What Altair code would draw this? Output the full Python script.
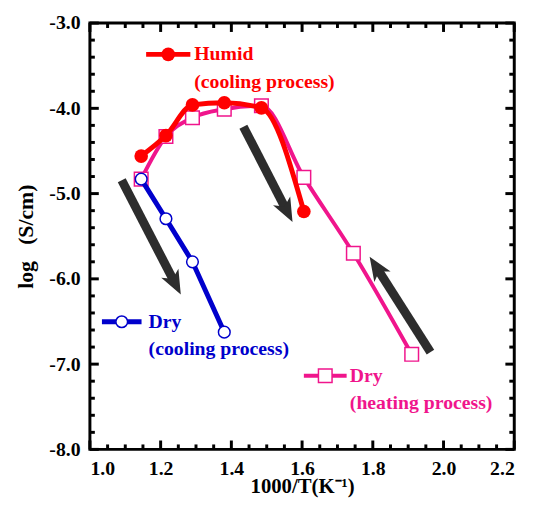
import math
import altair as alt
import pandas as pd

# ---------------- data ----------------
humid_x = [1.145, 1.215, 1.29, 1.38, 1.485, 1.605]
humid_y = [-4.56, -4.32, -3.96, -3.935, -3.995, -5.21]

dry_heat_x = [1.145, 1.215, 1.29, 1.38, 1.485, 1.605, 1.745, 1.91]
dry_heat_y = [-4.83, -4.33, -4.11, -4.01, -3.97, -4.81, -5.70, -6.885]

dry_cool_x = [1.145, 1.215, 1.29, 1.38]
dry_cool_y = [-4.83, -5.295, -5.80, -6.625]

x_major = [1.0, 1.2, 1.4, 1.6, 1.8, 2.0, 2.2]
x_minor = [1.05, 1.1, 1.15, 1.25, 1.3, 1.35, 1.45, 1.5, 1.55, 1.65, 1.7, 1.75,
           1.85, 1.9, 1.95, 2.05, 2.1, 2.15]
y_major = [-8.0, -7.0, -6.0, -5.0, -4.0, -3.0]
y_minor = [-7.8, -7.6, -7.4, -7.2, -6.8, -6.6, -6.4, -6.2, -5.8, -5.6, -5.4, -5.2,
           -4.8, -4.6, -4.4, -4.2, -3.8, -3.6, -3.4, -3.2]

# arrows (data coordinates)
arrow_tail_x = [1.09, 1.434, 1.963]
arrow_tail_y = [-4.844, -4.215, -6.858]
arrow_tip_x = [1.257, 1.573, 1.791]
arrow_tip_y = [-6.183, -5.334, -5.74]

# legend annotations (data coordinates)
leg_names = ["Humid", "Dry", "Dry"]
leg_sub = ["(cooling process)", "(cooling process)", "(heating process)"]
leg_x1 = [1.159, 1.034, 1.605]
leg_x2 = [1.284, 1.146, 1.726]
leg_y = [-3.367, -6.503, -7.136]
leg_y2 = [-3.694, -6.819, -7.456]
leg_text_x = [1.295, 1.166, 1.735]

RED = "#ff0000"
BLUE = "#0000cc"
PINK = "#f0158c"
DARK = "#2d2d2d"
FONT = "Liberation Serif"

W, H = 430, 432
XD = [1.0, 2.2]
YD = [-8.0, -3.0]
px_x = W / (XD[1] - XD[0])
px_y = H / (YD[1] - YD[0])

xs = alt.Scale(domain=XD, nice=False, zero=False)
ys = alt.Scale(domain=YD, nice=False, zero=False)

# ---------------- series ----------------
humid = pd.DataFrame({"x": humid_x, "y": humid_y})
dheat = pd.DataFrame({"x": dry_heat_x, "y": dry_heat_y})
dcool = pd.DataFrame({"x": dry_cool_x, "y": dry_cool_y})

X = alt.X("x:Q", scale=xs)
Y = alt.Y("y:Q", scale=ys)

pink_line = alt.Chart(dheat).mark_line(color=PINK, strokeWidth=4, interpolate="monotone").encode(x=X, y=Y)
pink_pts = alt.Chart(dheat).mark_point(shape="square", size=190, filled=True, fill="white",
                                       stroke=PINK, strokeWidth=1.5, opacity=1).encode(x=X, y=Y)
red_line = alt.Chart(humid).mark_line(color=RED, strokeWidth=5, interpolate="monotone").encode(x=X, y=Y)
red_pts = alt.Chart(humid).mark_point(shape="circle", size=190, filled=True, color=RED, opacity=1).encode(x=X, y=Y)
blue_line = alt.Chart(dcool).mark_line(color=BLUE, strokeWidth=5).encode(x=X, y=Y)
blue_pts = alt.Chart(dcool).mark_point(shape="circle", size=140, filled=True, fill="white",
                                       stroke=BLUE, strokeWidth=1.5, opacity=1).encode(x=X, y=Y)

# ---------------- arrows ----------------
rows = []
for tx, ty, hx, hy in zip(arrow_tail_x, arrow_tail_y, arrow_tip_x, arrow_tip_y):
    dxp = (hx - tx) * px_x
    dyp = -(hy - ty) * px_y
    L = math.hypot(dxp, dyp)
    ang = math.degrees(math.atan2(dxp, -dyp)) % 360
    back = 15
    ex = hx - back * dxp / L / px_x
    ey = hy + back * dyp / L / px_y
    rows.append({"tx": tx, "ty": ty, "ex": ex, "ey": ey, "hx": hx, "hy": hy, "ang": ang})
arrows = pd.DataFrame(rows)

shaft = alt.Chart(arrows).mark_rule(color=DARK, strokeWidth=9, strokeCap="butt").encode(
    x=alt.X("tx:Q", scale=xs), y=alt.Y("ty:Q", scale=ys), x2="ex:Q", y2="ey:Q")
head = alt.Chart(arrows).mark_point(
    shape="M0,0 L0.85,2.1 L0,1.55 L-0.85,2.1 Z", size=530, filled=True, color=DARK, opacity=1).encode(
    x=alt.X("hx:Q", scale=xs), y=alt.Y("hy:Q", scale=ys),
    angle=alt.Angle("ang:Q", scale=None))

# ---------------- legend annotations ----------------
leg = pd.DataFrame({"name": leg_names, "sub": leg_sub, "x1": leg_x1, "x2": leg_x2,
                    "y": leg_y, "y2": leg_y2, "tx": leg_text_x,
                    "xm": [(a + b) / 2 for a, b in zip(leg_x1, leg_x2)]})
colors = [RED, BLUE, PINK]
widths = [5, 5, 4]
leg_layers = []
for i in range(3):
    d = leg.iloc[[i]]
    c = colors[i]
    leg_layers.append(alt.Chart(d).mark_rule(color=c, strokeWidth=widths[i]).encode(
        x=alt.X("x1:Q", scale=xs), x2="x2:Q", y=alt.Y("y:Q", scale=ys)))
    if i == 0:
        mk = alt.Chart(d).mark_point(shape="circle", size=190, filled=True, color=RED, opacity=1)
    elif i == 1:
        mk = alt.Chart(d).mark_point(shape="circle", size=140, filled=True, fill="white",
                                     stroke=BLUE, strokeWidth=1.5, opacity=1)
    else:
        mk = alt.Chart(d).mark_point(shape="square", size=190, filled=True, fill="white",
                                     stroke=PINK, strokeWidth=1.5, opacity=1)
    leg_layers.append(mk.encode(x=alt.X("xm:Q", scale=xs), y=alt.Y("y:Q", scale=ys)))
    leg_layers.append(alt.Chart(d).mark_text(color=c, font=FONT, fontSize=20, fontWeight="bold",
                                             align="left", baseline="middle").encode(
        x=alt.X("tx:Q", scale=xs), y=alt.Y("y:Q", scale=ys), text="name:N"))
    leg_layers.append(alt.Chart(d).mark_text(color=c, font=FONT, fontSize=20, fontWeight="bold",
                                             align="left", baseline="middle").encode(
        x=alt.X("tx:Q", scale=xs), y=alt.Y("y2:Q", scale=ys), text="sub:N"))

# ---------------- axes & inward ticks ----------------
LBL = "replace(format(datum.value, '.1f'), '\u2212', '-')"
axes = alt.Chart(pd.DataFrame({"x": [XD[0]], "y": [YD[0]]})).mark_point(opacity=0).encode(
    x=alt.X("x:Q", scale=xs, axis=alt.Axis(values=x_major, labelExpr=LBL, ticks=False, domain=False,
                                           grid=False, labelPadding=9, title="1000/T(K\u207b\u00b9)",
                                           titleBaseline="middle", titleY=38, titleFontSize=21)),
    y=alt.Y("y:Q", scale=ys, axis=alt.Axis(values=y_major, labelExpr=LBL, ticks=False, domain=False,
                                           grid=False, labelPadding=10,
                                           title="log\u00a0\u00a0\u00a0(S/cm)", titlePadding=12,
                                           titleFontSize=22)))

xmaj = pd.DataFrame({"v": x_major})
xmin = pd.DataFrame({"v": x_minor})
ymaj = pd.DataFrame({"v": y_major})
ymin = pd.DataFrame({"v": y_minor})

def xticks(df, L):
    b = alt.Chart(df).mark_rule(color="black", strokeWidth=3).encode(
        x=alt.X("v:Q", scale=xs), y=alt.value(H), y2=alt.value(H - L))
    t = alt.Chart(df).mark_rule(color="black", strokeWidth=3).encode(
        x=alt.X("v:Q", scale=xs), y=alt.value(0), y2=alt.value(L))
    return [b, t]

def yticks(df, L):
    l = alt.Chart(df).mark_rule(color="black", strokeWidth=3).encode(
        y=alt.Y("v:Q", scale=ys), x=alt.value(0), x2=alt.value(L))
    r = alt.Chart(df).mark_rule(color="black", strokeWidth=3).encode(
        y=alt.Y("v:Q", scale=ys), x=alt.value(W), x2=alt.value(W - L))
    return [l, r]

tick_layers = xticks(xmaj, 9) + xticks(xmin, 5) + yticks(ymaj, 9) + yticks(ymin, 5)

chart = alt.layer(
    axes, *tick_layers, shaft, head,
    pink_line, pink_pts, red_line, red_pts, blue_line, blue_pts,
    *leg_layers
).properties(
    width=W, height=H,
    autosize=alt.AutoSizeParams(type="none"),
    padding={"left": 83, "top": 12, "right": 20, "bottom": 47},
    background="white",
).configure_view(
    stroke="black", strokeWidth=3
).configure_axis(
    labelFont=FONT, labelFontSize=20, labelFontWeight="bold", labelColor="black",
    titleFont=FONT, titleFontSize=22, titleFontWeight="bold", titleColor="black",
)

chart.save("out.html", embed_options={"renderer": "svg", "actions": False})
